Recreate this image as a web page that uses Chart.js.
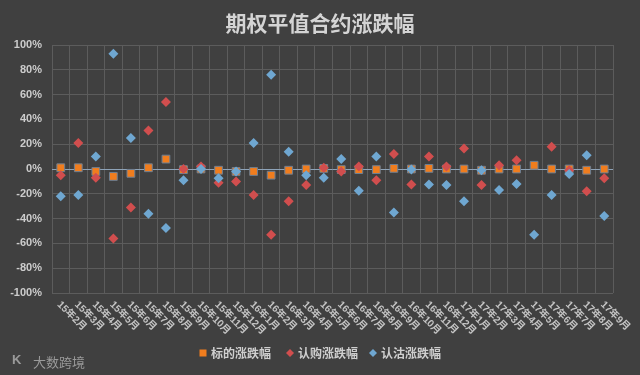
<!DOCTYPE html>
<html>
<head>
<meta charset="utf-8">
<script src="https://cdn.jsdelivr.net/npm/chart.js@4/dist/chart.umd.min.js"></script>
<style>
  html, body { margin: 0; padding: 0; background: #404040; }
  #wrap { width: 640px; height: 375px; position: relative; }
</style>
</head>
<body>
<div id="wrap"><canvas id="c" width="640" height="375"></canvas></div>
<script>
const chartTitle = '期权平值合约涨跌幅';
const categories = ['15年2月','15年3月','15年4月','15年5月','15年6月','15年7月','15年8月','15年9月','15年10月','15年11月','15年12月',
  '16年1月','16年2月','16年3月','16年4月','16年5月','16年6月','16年7月','16年8月','16年9月','16年10月','16年11月','16年12月',
  '17年1月','17年2月','17年3月','17年4月','17年5月','17年6月','17年7月','17年8月','17年9月'];
const seriesNames = ['标的涨跌幅', '认购涨跌幅', '认沽涨跌幅'];
const underlyingChg = [1, 1, -2, -6, -3.5, 1, 8, -0.5, 0, -1, -2, -2, -5, -1, 0, 0.5, -0.5, -0.5, -0.5, 0.5, 0, 0.5, 0, 0, -1, 0, 0, 3, 0, 0, -1, 0];
const callChg = [-5, 21, -7, -56, -31, 31, 54, 0, 2, -11, -10, -21, -53, -26, -13, 1, -2, 2, -9, 12, -12.5, 10, 2, 16.5, -13, 3, 7, null, 18, -1, -18, -7.5];
const putChg = [-22, -21, 10, 93, 25, -36, -47.5, -9, 0, -7.5, -2, 21, 76, 14, -5, -7, 8, -17.5, 10, -35, -0.5, -12.5, -13, -26, -1, -17, -12, -53, -21, -4, 11, -38];
const yTicks = [-100, -80, -60, -40, -20, 0, 20, 40, 60, 80, 100];
const watermark = '大数跨境';

const colors = ['#F07D1E', '#D14E4E', '#6FA7D1'];
const textColor = '#cfcfcf';

const overlay = {
  id: 'overlay',
  afterDraw(chart) {
    const ctx = chart.ctx;
    const xs = chart.scales.x;
    ctx.save();
    // title
    ctx.fillStyle = '#d4d4d4';
    ctx.font = 'bold 21px "Noto Sans CJK SC"';
    ctx.textAlign = 'center';
    ctx.textBaseline = 'middle';
    ctx.fillText(chartTitle, 320, 23);
    // rotated x labels
    ctx.font = 'bold 10px "Liberation Sans", "Noto Sans CJK SC"';
    ctx.fillStyle = '#c4c4c4';
    ctx.textAlign = 'left';
    ctx.textBaseline = 'middle';
    categories.forEach((lab, i) => {
      const x = xs.getPixelForValue(i);
      ctx.save();
      ctx.translate(x - 2, chart.chartArea.bottom + 10);
      ctx.rotate(Math.PI / 4);
      ctx.fillText(lab, 0, 0);
      ctx.restore();
    });
    // legend
    const ly = 353;
    const items = [[203, 'rect'], [290, 'rectRot'], [373, 'rectRot']];
    ctx.font = 'bold 12px "Noto Sans CJK SC"';
    ctx.textAlign = 'left';
    items.forEach((it, k) => {
      const cx = it[0];
      ctx.fillStyle = colors[k];
      ctx.beginPath();
      if (it[1] === 'rect') {
        ctx.rect(cx - 3.5, ly - 3.5, 7, 7);
      } else {
        ctx.moveTo(cx, ly - 4); ctx.lineTo(cx + 4, ly); ctx.lineTo(cx, ly + 4); ctx.lineTo(cx - 4, ly);
        ctx.closePath();
      }
      ctx.fill();
      ctx.fillStyle = textColor;
      ctx.fillText(seriesNames[k], cx + 8, ly);
    });
    // watermark
    ctx.fillStyle = '#9a9a9a';
    ctx.font = '13px "Noto Sans CJK SC"';
    ctx.fillText(watermark, 33, 362);
    ctx.font = 'bold 13px "Liberation Sans"';
    ctx.fillText('K', 12, 360);
    ctx.restore();
  }
};

const mk = (label, data, idx, style, radius, order) => ({
  label, data, showLine: false,
  pointStyle: style, pointRadius: radius, pointHoverRadius: radius,
  backgroundColor: colors[idx], borderColor: idx === 0 ? '#6d7f93' : colors[idx], borderWidth: idx === 0 ? 1 : 0,
  order
});

new Chart(document.getElementById('c'), {
  type: 'line',
  data: {
    labels: categories,
    datasets: [
      mk(seriesNames[0], underlyingChg, 0, 'rect', 5.5, 3),
      mk(seriesNames[1], callChg, 1, 'rectRot', 5, 2),
      mk(seriesNames[2], putChg, 2, 'rectRot', 5, 1)
    ]
  },
  options: {
    responsive: false,
    animation: false,
    devicePixelRatio: 1,
    layout: { padding: { top: 45, right: 27, left: 0, bottom: 0 } },
    plugins: { legend: { display: false }, title: { display: false }, tooltip: { enabled: false } },
    scales: {
      x: {
        type: 'category',
        offset: true,
        grid: { offset: true, color: '#5c5c5c', drawTicks: false },
        border: { display: false },
        ticks: { display: false },
        afterFit(s) { s.height = 82; }
      },
      y: {
        min: -100, max: 100,
        afterBuildTicks(s) { s.ticks = yTicks.map(v => ({ value: v })); },
        grid: {
          drawTicks: false,
          color: c => (c.tick && c.tick.value === 0) ? '#8ea3b8' : '#5c5c5c'
        },
        border: { display: false },
        ticks: {
          padding: 10,
          color: '#cccccc',
          font: { family: 'Liberation Sans', size: 11, weight: 'bold' },
          callback: v => v + '%'
        },
        afterFit(s) { s.width = 52; }
      }
    }
  },
  plugins: [overlay]
});
</script>
</body>
</html>
